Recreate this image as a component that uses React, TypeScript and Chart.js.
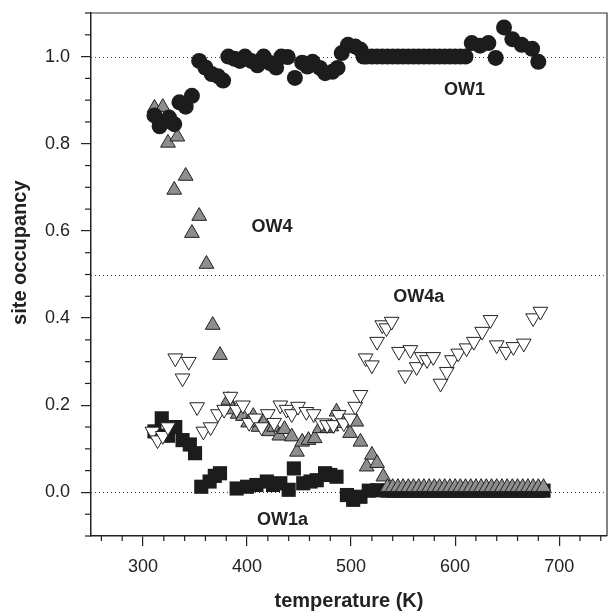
import React, { useEffect, useRef } from 'react';
import { Chart, registerables } from 'chart.js';

Chart.register(...registerables);

// ---- data (temperature K, site occupancy) ----
const ow1T = [311, 316, 320, 325, 330, 335, 341, 347, 354, 360, 366, 372, 377, 382, 388, 393, 398, 404, 410, 416, 422, 428, 433, 439, 446, 453, 458, 463, 470, 475, 482, 487, 491, 497, 504, 509, 512, 515, 520, 525, 530, 535, 540, 545, 550, 555, 560, 565, 570, 575, 580, 585, 590, 595, 600, 605, 610, 616, 624, 632, 639, 647, 655, 664, 674, 680];
const ow1V = [0.865, 0.84, 0.85, 0.86, 0.845, 0.895, 0.885, 0.91, 0.99, 0.975, 0.96, 0.955, 0.945, 1.0, 0.995, 0.99, 1.0, 0.99, 0.98, 1.0, 0.985, 0.975, 1.0, 0.999, 0.951, 0.986, 0.977, 0.988, 0.974, 0.962, 0.965, 0.974, 1.008, 1.027, 1.023, 1.016, 1.0, 1.0, 1.0, 1.0, 1.0, 1.0, 1.0, 1.0, 1.0, 1.0, 1.0, 1.0, 1.0, 1.0, 1.0, 1.0, 1.0, 1.0, 1.0, 1.0, 1.0, 1.031, 1.025, 1.031, 0.997, 1.067, 1.04, 1.027, 1.018, 0.988];

const ow4T = [311, 316, 319, 324, 330, 333, 341, 347, 354, 361, 367, 374, 382, 386, 391, 396, 401, 406, 411, 416, 421, 426, 431, 436, 443, 448, 453, 459, 465, 470, 477, 481, 486, 493, 499, 505, 509, 515, 520, 525, 531, 535, 540, 545, 550, 555, 560, 565, 570, 575, 580, 585, 590, 595, 600, 605, 610, 615, 620, 625, 630, 635, 640, 645, 650, 655, 660, 665, 670, 675, 680, 685];
const ow4V = [0.882, 0.855, 0.884, 0.802, 0.694, 0.816, 0.726, 0.595, 0.634, 0.524, 0.384, 0.315, 0.212, 0.19, 0.18, 0.175, 0.16, 0.175, 0.15, 0.16, 0.14, 0.15, 0.13, 0.145, 0.128, 0.093, 0.116, 0.12, 0.124, 0.147, 0.147, 0.151, 0.185, 0.159, 0.136, 0.162, 0.116, 0.059, 0.086, 0.067, 0.036, 0.012, 0.012, 0.012, 0.012, 0.012, 0.012, 0.012, 0.012, 0.012, 0.012, 0.012, 0.012, 0.012, 0.012, 0.012, 0.012, 0.012, 0.012, 0.012, 0.012, 0.012, 0.012, 0.012, 0.012, 0.012, 0.012, 0.012, 0.012, 0.012, 0.012, 0.012];

const ow4aT = [309, 314, 319, 324, 331, 338, 344, 352, 358, 365, 372, 378, 384, 390, 396, 402, 408, 414, 420, 426, 432, 438, 443, 449, 457, 464, 472, 477, 483, 488, 493, 499, 504, 509, 514, 520, 525, 530, 534, 539, 546, 552, 557, 563, 568, 573, 579, 586, 592, 597, 603, 611, 618, 626, 634, 640, 649, 656, 666, 675, 682];
const ow4aV = [0.14, 0.12, 0.13, 0.15, 0.308, 0.262, 0.3, 0.196, 0.14, 0.15, 0.18, 0.19, 0.22, 0.19, 0.2, 0.16, 0.17, 0.15, 0.18, 0.16, 0.2, 0.19, 0.18, 0.197, 0.185, 0.18, 0.159, 0.155, 0.155, 0.178, 0.159, 0.17, 0.197, 0.224, 0.308, 0.292, 0.346, 0.384, 0.377, 0.392, 0.323, 0.269, 0.327, 0.288, 0.311, 0.304, 0.311, 0.25, 0.277, 0.304, 0.319, 0.331, 0.346, 0.369, 0.396, 0.338, 0.323, 0.334, 0.342, 0.4, 0.415];

const ow1aT = [311, 318, 324, 331, 338, 345, 350, 356, 364, 369, 374, 390, 400, 409, 419, 425, 432, 440, 445, 454, 461, 467, 475, 480, 486, 496, 502, 509, 517, 525, 535, 540, 545, 550, 555, 560, 565, 570, 575, 580, 585, 590, 595, 600, 605, 610, 615, 620, 625, 630, 635, 640, 645, 650, 655, 660, 665, 670, 675, 680, 685];
const ow1aV = [0.14, 0.17, 0.13, 0.15, 0.12, 0.11, 0.09, 0.013, 0.025, 0.038, 0.044, 0.009, 0.013, 0.017, 0.025, 0.017, 0.021, 0.006, 0.055, 0.021, 0.025, 0.028, 0.044, 0.04, 0.036, -0.006, -0.017, -0.01, 0.004, 0.005, 0.004, 0.004, 0.004, 0.004, 0.004, 0.004, 0.004, 0.004, 0.004, 0.004, 0.004, 0.004, 0.004, 0.004, 0.004, 0.004, 0.004, 0.004, 0.004, 0.004, 0.004, 0.004, 0.004, 0.004, 0.004, 0.004, 0.004, 0.004, 0.004, 0.004, 0.004];

const xTickValues = [300, 400, 500, 600, 700];
const yTickValues = [0, 0.2, 0.4, 0.6, 0.8, 1.0];
const refLineValues = [0, 0.5, 1.0];
const seriesLabels = ['OW1', 'OW4', 'OW4a', 'OW1a'];
const labelAnchorsT = [609, 424, 565, 434];
const labelAnchorsV = [0.923, 0.609, 0.448, -0.063];
const xTitle = 'temperature (K)';
const yTitle = 'site occupancy';

const FONT = "'Liberation Sans', Arial, Helvetica, sans-serif";

const toPoints = (t: number[], v: number[]) => t.map((x, i) => ({ x, y: v[i] }));

const decorPlugin = {
  id: 'decor',
  beforeDatasetsDraw(chart: any) {
    const { ctx, chartArea, scales } = chart;
    ctx.save();
    ctx.strokeStyle = '#444';
    ctx.lineWidth = 1;
    ctx.setLineDash([1, 3]);
    refLineValues.forEach((v) => {
      const y = Math.round(scales.y.getPixelForValue(v)) + 0.5;
      ctx.beginPath();
      ctx.moveTo(chartArea.left, y);
      ctx.lineTo(chartArea.right, y);
      ctx.stroke();
    });
    ctx.restore();
  },
  afterDraw(chart: any) {
    const { ctx, chartArea, scales } = chart;
    ctx.save();
    ctx.strokeStyle = '#222';
    ctx.lineWidth = 1.2;
    for (let k = -2; k <= 22; k++) {
      const v = k * 0.05;
      if (k % 4 === 0) continue;
      const y = scales.y.getPixelForValue(v);
      ctx.beginPath();
      ctx.moveTo(chartArea.left - 6, y);
      ctx.lineTo(chartArea.left, y);
      ctx.stroke();
    }
    for (let t = 260; t <= 745; t += 20) {
      if (t % 100 === 0) continue;
      const x = scales.x.getPixelForValue(t);
      ctx.beginPath();
      ctx.moveTo(x, chartArea.bottom);
      ctx.lineTo(x, chartArea.bottom + 5);
      ctx.stroke();
    }
    ctx.strokeStyle = '#333';
    ctx.beginPath();
    ctx.moveTo(chartArea.left, chartArea.top);
    ctx.lineTo(chartArea.right, chartArea.top);
    ctx.lineTo(chartArea.right, chartArea.bottom);
    ctx.stroke();

    ctx.fillStyle = '#222';
    ctx.font = `bold 18px ${FONT}`;
    ctx.textAlign = 'center';
    ctx.textBaseline = 'middle';
    seriesLabels.forEach((s, i) => {
      ctx.fillText(s, scales.x.getPixelForValue(labelAnchorsT[i]), scales.y.getPixelForValue(labelAnchorsV[i]));
    });

    ctx.font = `bold 20px ${FONT}`;
    ctx.fillText(xTitle, (chartArea.left + chartArea.right) / 2, 601);
    ctx.translate(20, scales.y.getPixelForValue(0.55));
    ctx.rotate(-Math.PI / 2);
    ctx.fillText(yTitle, 0, 0);
    ctx.restore();
  },
};

export default function App() {
  const ref = useRef<HTMLCanvasElement | null>(null);
  useEffect(() => {
    document.body.style.margin = '0';
    const canvas = ref.current!;
    const chart = new Chart(canvas, {
      type: 'scatter',
      data: {
        datasets: [
          {
            label: 'OW1',
            data: toPoints(ow1T, ow1V),
            pointStyle: 'circle',
            pointRadius: 8,
            backgroundColor: '#1c1c1c',
            borderColor: '#1c1c1c',
            borderWidth: 0,
          },
          {
            label: 'OW4a',
            data: toPoints(ow4aT, ow4aV),
            pointStyle: 'triangle',
            rotation: 180,
            pointRadius: 8.5,
            backgroundColor: '#ffffff',
            borderColor: '#222',
            borderWidth: 1,
          },
          {
            label: 'OW4',
            data: toPoints(ow4T, ow4V),
            pointStyle: 'triangle',
            pointRadius: 8.5,
            backgroundColor: '#8e8e8e',
            borderColor: '#222',
            borderWidth: 1,
          },
          {
            label: 'OW1a',
            data: toPoints(ow1aT, ow1aV),
            pointStyle: 'rect',
            pointRadius: 10,
            backgroundColor: '#1c1c1c',
            borderColor: '#1c1c1c',
            borderWidth: 0,
          },
        ],
      },
      options: {
        animation: false,
        responsive: false,
        devicePixelRatio: 1,
        layout: { autoPadding: false, padding: { top: 13, right: 1, left: 0, bottom: 0 } },
        plugins: { legend: { display: false }, tooltip: { enabled: false } },
        scales: {
          x: {
            type: 'linear',
            min: 250,
            max: 746,
            afterFit: (s: any) => { s.height = 77; s.paddingLeft = 0; s.paddingRight = 0; },
            afterBuildTicks: (s: any) => { s.ticks = xTickValues.map((v) => ({ value: v })); },
            grid: { display: true, drawOnChartArea: false, drawTicks: true, tickLength: 10, color: '#222', lineWidth: 1.2 },
            border: { display: true, color: '#222', width: 1.5 },
            ticks: { color: '#222', font: { family: FONT, size: 18 }, padding: 10, maxRotation: 0 },
          },
          y: {
            type: 'linear',
            min: -0.1,
            max: 1.1,
            afterFit: (s: any) => { s.width = 91; s.paddingTop = 0; s.paddingBottom = 0; },
            afterBuildTicks: (s: any) => { s.ticks = yTickValues.map((v) => ({ value: v })); },
            grid: { display: true, drawOnChartArea: false, drawTicks: true, tickLength: 10, color: '#222', lineWidth: 1.2 },
            border: { display: true, color: '#222', width: 1.5 },
            ticks: { color: '#222', font: { family: FONT, size: 18 }, padding: 11, callback: (v: any) => Number(v).toFixed(1) },
          },
        },
      },
      plugins: [decorPlugin],
    });
    return () => chart.destroy();
  }, []);
  return <canvas ref={ref} width={608} height={613} style={{ display: 'block' }} />;
}
